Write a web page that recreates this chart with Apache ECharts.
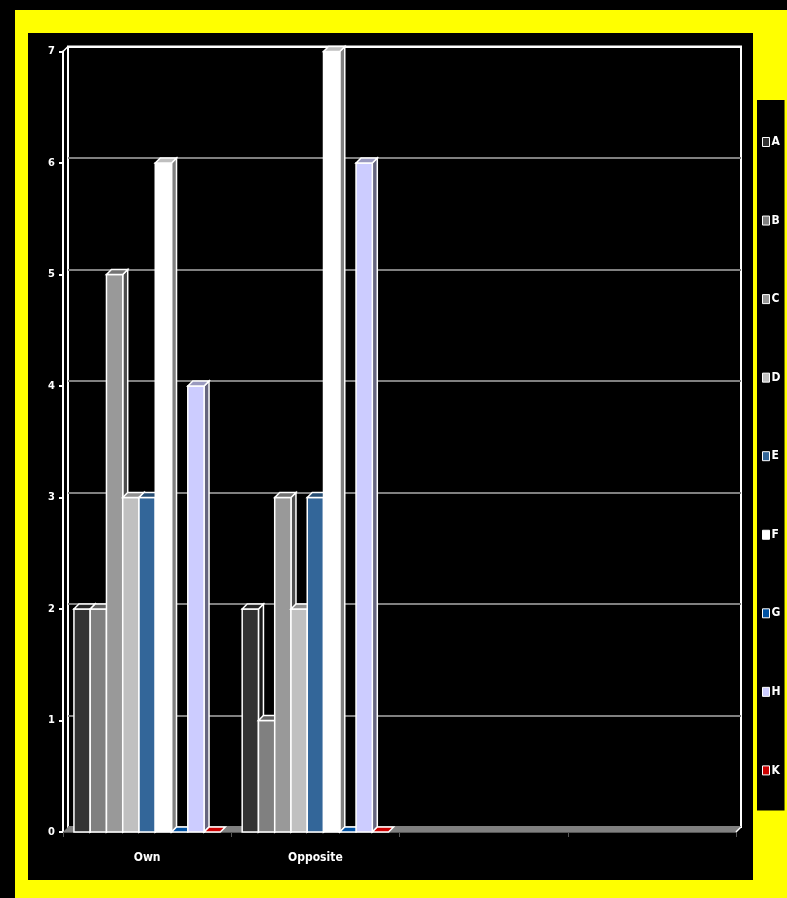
<!DOCTYPE html>
<html>
<head>
<meta charset="utf-8">
<script src="https://cdn.jsdelivr.net/npm/echarts@6/dist/echarts.min.js"></script>
<style>
html, body { margin: 0; padding: 0; background: #000; }
#chart { width: 787px; height: 898px; }
</style>
</head>
<body>
<div id="chart"></div>
<script>
var categories = ['Own', 'Opposite', '', ''];
var seriesNames = ['A', 'B', 'C', 'D', 'E', 'F', 'G', 'H', 'K'];
var seriesColors = ['#333333', '#808080', '#999999', '#c0c0c0', '#336699', '#ffffff', '#0052a3', '#ccccff', '#cc0000'];
var ownValues = [2, 2, 5, 3, 3, 6, 0, 4, 0];
var oppositeValues = [2, 1, 3, 2, 3, 7, 0, 6, 0];
var yTicks = [0, 1, 2, 3, 4, 5, 6, 7];

var DX = 5, DY = 5;
var FONT = "'Liberation Sans Narrow', 'DejaVu Sans Condensed', sans-serif";

function shade(hex, k) {
    var n = parseInt(hex.slice(1), 16);
    var r = Math.round(((n >> 16) & 255) * k);
    var g = Math.round(((n >> 8) & 255) * k);
    var b = Math.round((n & 255) * k);
    return 'rgb(' + r + ',' + g + ',' + b + ')';
}

function makeBarRenderer(idx) {
    return function (params, api) {
        var cat = api.value(0), val = api.value(1);
        var band = api.size([1, 0])[0];
        var w = band * 0.87 / seriesNames.length;
        var base = api.coord([cat, 0]);
        var top = api.coord([cat, val]);
        var x0 = base[0] - band * 0.435 + idx * w;
        var x1 = x0 + w;
        var col = seriesColors[idx];
        var stroke = { stroke: '#fff', lineWidth: 1.5 };
        var kids = [];
        var topFace = {
            type: 'polygon',
            shape: { points: [[x0, top[1]], [x0 + DX, top[1] - DY], [x1 + DX, top[1] - DY], [x1, top[1]]] },
            style: Object.assign({ fill: val === 0 ? col : shade(col, 0.75) }, stroke)
        };
        if (val > 0) {
            kids.push({
                type: 'polygon',
                shape: { points: [[x1, top[1]], [x1 + DX, top[1] - DY], [x1 + DX, base[1] - DY], [x1, base[1]]] },
                style: Object.assign({ fill: shade(col, 0.5) }, stroke)
            });
            kids.push({
                type: 'rect',
                shape: { x: x0, y: top[1], width: w, height: base[1] - top[1] },
                style: Object.assign({ fill: col }, stroke)
            });
        }
        kids.push(topFace);
        return { type: 'group', children: kids };
    };
}

function renderFloor(params, api) {
    var band = api.size([1, 0])[0];
    var first = api.coord([0, 0]);
    var last = api.coord([categories.length - 1, 0]);
    var topLeft = api.coord([0, yTicks[yTicks.length - 1]]);
    var l = first[0] - band / 2, r = last[0] + band / 2, y = first[1];
    return {
        type: 'group',
        children: [
            {
                type: 'polygon',
                shape: { points: [[l, y], [r, y], [r + DX, y - DY], [l + DX, y - DY]] },
                style: { fill: '#808080' }
            },
            {
                type: 'line',
                shape: { x1: r, y1: y, x2: r + DX, y2: y - DY },
                style: { stroke: '#fff', lineWidth: 1.5 }
            },
            {
                type: 'line',
                shape: { x1: l, y1: topLeft[1], x2: l + DX, y2: topLeft[1] - DY },
                style: { stroke: '#fff', lineWidth: 1.5 }
            }
        ]
    };
}

var series = [{
    type: 'custom',
    name: 'floor',
    xAxisIndex: 0,
    yAxisIndex: 0,
    renderItem: renderFloor,
    data: [[0, 0]],
    clip: false,
    silent: true,
    z: 1
}];
seriesNames.forEach(function (name, i) {
    series.push({
        type: 'custom',
        name: name,
        xAxisIndex: 0,
        yAxisIndex: 0,
        renderItem: makeBarRenderer(i),
        itemStyle: { color: seriesColors[i] },
        data: [[0, ownValues[i]], [1, oppositeValues[i]]],
        clip: false,
        z: 2
    });
});

// gray gridlines, white for the top edge of the back wall
var splitColors = yTicks.map(function (t, i) { return i === yTicks.length - 1 ? '#ffffff' : '#808080'; });

var option = {
    animation: false,
    backgroundColor: '#000',
    graphic: [
        { type: 'rect', z: -10, shape: { x: 15, y: 10, width: 772, height: 888 }, style: { fill: '#ffff00' } },
        { type: 'rect', z: -9, shape: { x: 28, y: 33, width: 725, height: 847 }, style: { fill: '#000' } }
    ],
    legend: {
        data: seriesNames,
        orient: 'vertical',
        left: 757,
        top: 100,
        backgroundColor: '#000',
        padding: [36, 4, 34, 5],
        itemWidth: 7,
        itemHeight: 9,
        itemGap: 66.55,
        icon: 'rect',
        itemStyle: { borderColor: '#fff', borderWidth: 1 },
        textStyle: { color: '#fff', fontSize: 12, fontWeight: 'bold', fontFamily: FONT, padding: [0, 0, 0, -3] },
        selectedMode: false
    },
    grid: [
        { left: 63, right: 51, top: 51.5, bottom: 66 },
        { left: 68, right: 46, top: 46.5, bottom: 71, show: true, borderColor: '#fff', borderWidth: 2, backgroundColor: 'transparent' }
    ],
    xAxis: [
        {
            type: 'category',
            gridIndex: 0,
            data: categories,
            axisLine: { lineStyle: { color: '#555', width: 1 } },
            axisTick: { show: true, lineStyle: { color: '#555' } },
            axisLabel: { color: '#fff', fontSize: 12, fontWeight: 'bold', fontFamily: FONT, margin: 20 }
        },
        { type: 'category', gridIndex: 1, data: categories, show: false }
    ],
    yAxis: [
        {
            type: 'value',
            gridIndex: 0,
            min: 0,
            max: 7,
            interval: 1,
            axisLine: { show: true, lineStyle: { color: '#fff', width: 2 } },
            axisTick: { show: true, length: 4, lineStyle: { color: '#fff', width: 2 } },
            axisLabel: { color: '#fff', fontSize: 11, fontWeight: 'bold', fontFamily: FONT, margin: 8 },
            splitLine: { show: false }
        },
        {
            type: 'value',
            gridIndex: 1,
            min: 0,
            max: 7,
            interval: 1,
            axisLine: { show: false },
            axisTick: { show: false },
            axisLabel: { show: false },
            splitLine: { show: true, lineStyle: { color: splitColors, width: 2 } }
        }
    ],
    series: series
};

var chart = echarts.init(document.getElementById('chart'));
chart.setOption(option);
</script>
</body>
</html>
